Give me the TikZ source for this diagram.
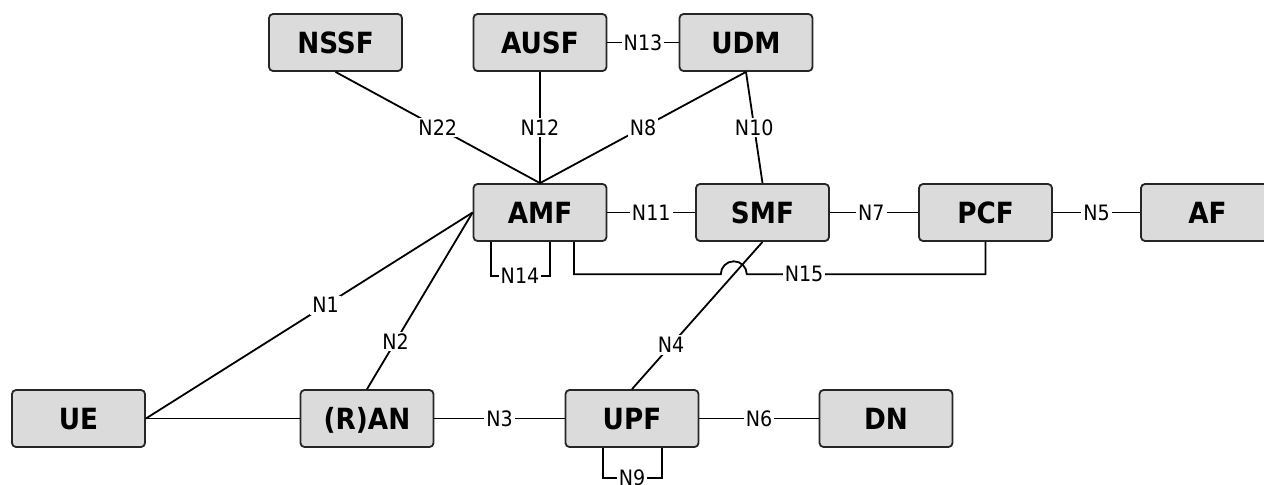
\documentclass[tikz,border=0pt]{standalone}
\usepackage{fontspec}
\setmainfont{DejaVu Sans Condensed}
\usepackage{tikz}
\usetikzlibrary{calc}
\tikzset{
  nf/.style={draw=black!85,line width=0.9pt,fill=black!14,rounded corners=2pt,minimum width=66.5pt,minimum height=28.5pt,inner sep=0pt,text height=10.6pt,text depth=0pt,font=\fontsize{14.6}{16}\selectfont\bfseries},
  lbl/.style={fill=white,inner sep=1pt,text height=7.6pt,text depth=0pt,font=\fontsize{10.6}{12}\selectfont},
  ln/.style={line width=0.9pt}
}

\begin{document}
\begin{tikzpicture}[x=0.5pt,y=-0.5pt]
\useasboundingbox(0,0)rectangle(1264,484);
\node[nf](nssf)at(335.5,42.5){NSSF};
\node[nf](ausf)at(540,42.5){AUSF};
\node[nf](udm)at(746,42.5){UDM};
\node[nf](amf)at(540,212.5){AMF};
\node[nf](smf)at(762.5,212.5){SMF};
\node[nf](pcf)at(985.5,212.5){PCF};
\node[nf](af)at(1207.5,212.5){AF};
\node[nf](ue)at(78.5,418.5){UE};
\node[nf](ran)at(367,418.5){(R)AN};
\node[nf](upf)at(632,418.5){UPF};
\node[nf](dn)at(886,418.5){DN};
\coordinate(hop)at($(smf.south)!0.22!(upf.north)$);
\draw[ln](nssf.south)--(amf.north)node[lbl,pos=0.5]{N22};
\draw[ln](ausf.south)--(amf.north)node[lbl,pos=0.5]{N12};
\draw[ln](udm.south)--(amf.north)node[lbl,pos=0.5]{N8};
\draw[ln](udm.south)--(smf.north)node[lbl,pos=0.5]{N10};
\draw[ln](ausf.east)--(udm.west)node[lbl,pos=0.5]{N13};
\draw[ln](amf.east)--(smf.west)node[lbl,pos=0.5]{N11};
\draw[ln](smf.east)--(pcf.west)node[lbl,pos=0.47]{N7};
\draw[ln](pcf.east)--(af.west)node[lbl,pos=0.5]{N5};
\draw[ln](ue.east)--(amf.west)node[lbl,pos=0.55]{N1};
\draw[ln](ran.north)--(amf.west)node[lbl,pos=0.27]{N2};
\draw[ln](ue.east)--(ran.west);
\draw[ln](ran.east)--(upf.west)node[lbl,pos=0.5]{N3};
\draw[ln](upf.east)--(dn.west)node[lbl,pos=0.5]{N6};
\draw[ln](smf.south)--(upf.north)node[lbl,pos=0.7]{N4};
\draw[ln]($(amf.south)+(-49,0)$)|-($(amf.south)+(-20,34)$)node[lbl]{N14}-|($(amf.south)+(10,0)$);
\draw[ln]($(upf.south)+(-29,0)$)|-($(upf.south)+(0,30)$)node[lbl]{N9}-|($(upf.south)+(30,0)$);
\draw[ln]($(amf.south)+(34,0)$)|-($(hop)+(-13,0)$)arc[start angle=180,end angle=360,radius=13]-|(pcf.south)node[lbl,pos=0.12]{N15};
\end{tikzpicture}
\end{document}
